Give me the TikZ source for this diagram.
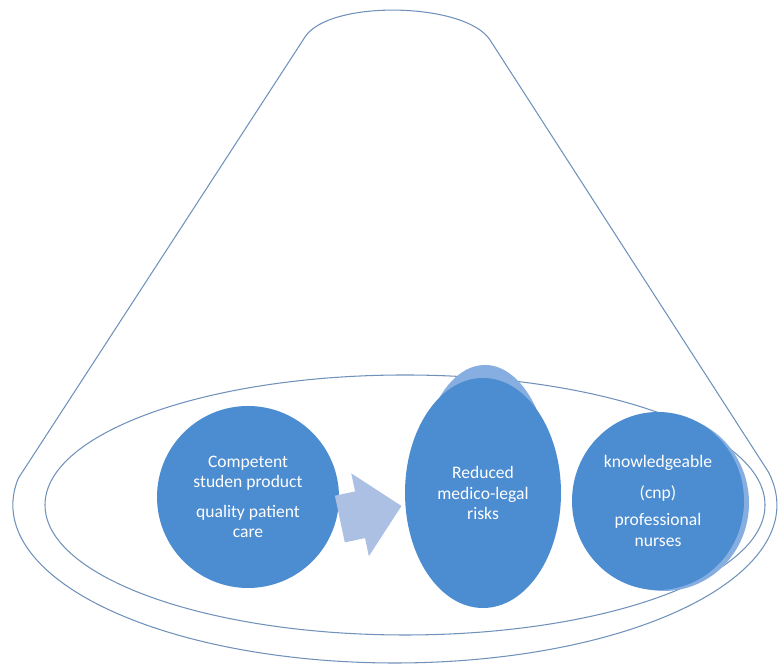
\documentclass[tikz,border=0pt]{standalone}
\usepackage{fontspec}
\setmainfont{Carlito}
\usetikzlibrary{shapes.geometric,shapes.arrows}
\definecolor{rimblue}{RGB}{112,146,186}
\definecolor{bubbleblue}{RGB}{76,140,208}
\definecolor{haloblue}{RGB}{134,174,224}
\definecolor{arrowblue}{RGB}{172,192,228}

\begin{document}
\begin{tikzpicture}[rim/.style={draw=rimblue, line width=0.6pt},
    bubble/.style={ellipse, fill=bubbleblue, text=white, inner sep=0pt, align=center, font=\fontsize{10}{11.5}\selectfont},
    halo/.style={ellipse, fill=haloblue, inner sep=0pt},
    blockarrow/.style={single arrow, fill=arrowblue, inner xsep=0pt, inner ysep=0.47cm, minimum height=1.26cm, single arrow head extend=0.37cm}]
    \useasboundingbox (0,0) rectangle (15.56,13.32);

    % cone and base
    \draw[rim] (0.376,3.769) -- (6.10,12.58) .. controls (6.59,13.335) and (9.31,13.277) .. (9.80,12.52)
        -- (15.37,3.877) arc[start angle=12, end angle=-190, x radius=7.64, y radius=3.16] -- cycle;
    \draw[rim] (8.10,3.22) ellipse [x radius=7.20, y radius=2.60];

    \node[halo, minimum width=2.66cm, minimum height=4.80cm] (riskshalo) at (9.70,3.62) {};
    \node[halo, minimum width=3.40cm, minimum height=3.52cm] (nurseshalo) at (13.28,3.26) {};

    \node[bubble, minimum size=3.64cm] (care) at (4.96,3.38) {Competent\\studen product\\[0.2cm]quality patient\\care};
    \node[bubble, minimum width=3.12cm, minimum height=4.60cm] (risks) at (9.66,3.46) {Reduced\\medico-legal\\risks};
    \node[bubble, minimum width=3.44cm, minimum height=3.56cm] (nurses) at (13.16,3.30) {knowledgeable\\[0.2cm](cnp)\\[0.15cm]professional\\nurses};

    \node[blockarrow, rotate=12] (arrow) at (7.18,3.02) {};
\end{tikzpicture}
\end{document}
